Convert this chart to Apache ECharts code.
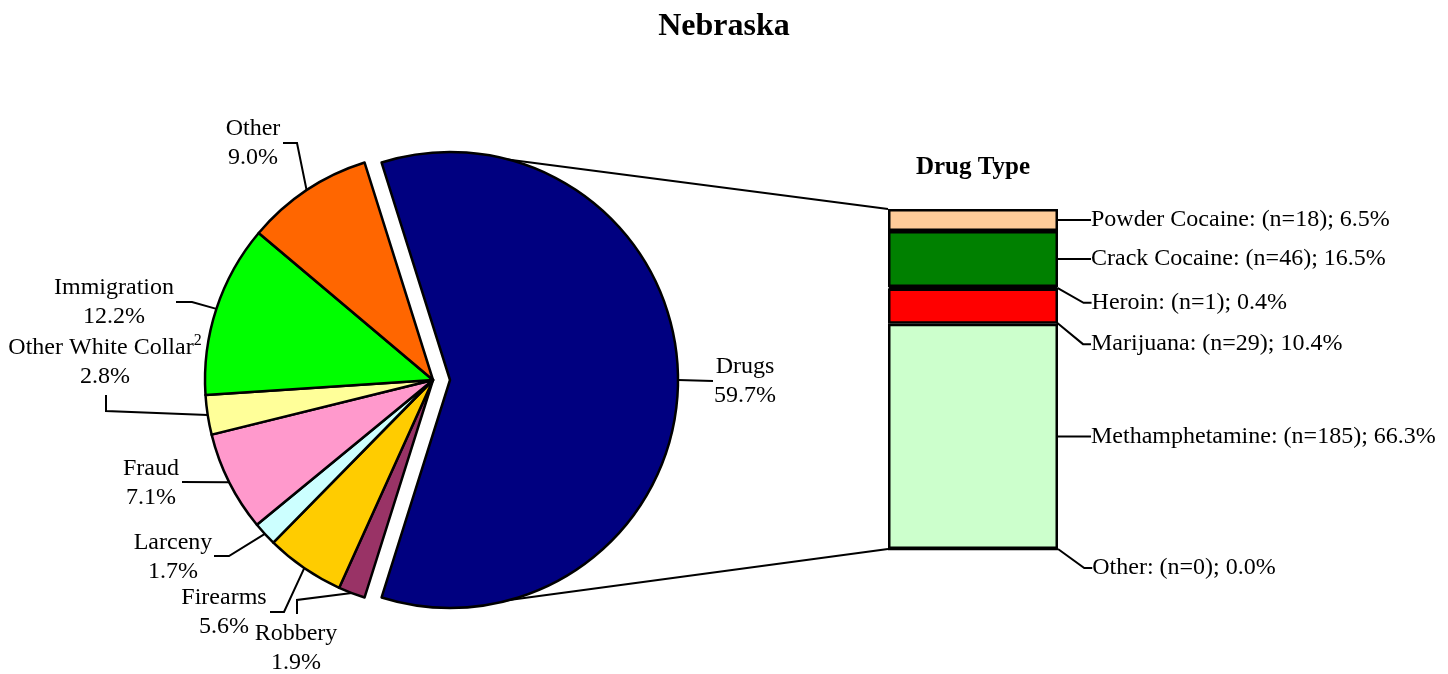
<!DOCTYPE html>
<html>
<head>
<meta charset="utf-8">
<script src="https://cdn.jsdelivr.net/npm/echarts@6/dist/echarts.min.js"></script>
<style>
html,body{margin:0;padding:0;background:#ffffff;}
#chart{width:1448px;height:674px;}
</style>
</head>
<body>
<div id="chart"></div>
<script>
// ---------- DATA ----------
const chartTitle = 'Nebraska';
const barTitle = 'Drug Type';
const offenseNames = ['Drugs', 'Robbery', 'Firearms', 'Larceny', 'Fraud', 'Other White Collar', 'Immigration', 'Other'];
const offensePercents = [59.7, 1.9, 5.6, 1.7, 7.1, 2.8, 12.2, 9.0];
const offenseFootnotes = { 'Other White Collar': '2' };
const explodedOffense = 'Drugs';

// drug breakdown, listed top to bottom as in the bar
const drugNames = ['Powder Cocaine', 'Crack Cocaine', 'Heroin', 'Marijuana', 'Methamphetamine', 'Other'];
const drugCounts = [18, 46, 1, 29, 185, 0];
const drugPercents = [6.5, 16.5, 0.4, 10.4, 66.3, 0.0];

// ---------- STYLE / LAYOUT ----------
const FONT = '"Liberation Serif", "Times New Roman", serif';
const offenseColors = ['#000080', '#993366', '#FFCC00', '#CCFFFF', '#FF99CC', '#FFFF99', '#00FF00', '#FF6600'];
const drugColors = ['#FFCC99', '#008000', '#333399', '#FF0000', '#CCFFCC', '#3366FF'];
const PIE = { cx: 433, cy: 380, r: 228, explode: 17 };
const BAR = { left: 888, top: 209, width: 170, height: 340 };
// label block centers and leader-line bends, relative to pie center
const pieLabelPos = {
  'Drugs':              { c: [312, 1],     pts: [[280, 1]] },
  'Robbery':            { c: [-137, 268],  pts: [[-136, 220], [-136, 234]] },
  'Firearms':           { c: [-209, 232],  pts: [[-149, 232], [-163, 232]] },
  'Larceny':            { c: [-260, 177],  pts: [[-204, 176], [-219, 176]] },
  'Fraud':              { c: [-282, 103],  pts: [[-251, 102]] },
  'Other White Collar': { c: [-328, -18],  pts: [[-327, 31], [-327, 15]] },
  'Immigration':        { c: [-319, -78],  pts: [[-241, -78], [-257, -78]] },
  'Other':              { c: [-180, -237], pts: [[-136, -237], [-150, -237]] }
};
// vertical shift of bar labels from the middle of their segment
const drugLabelShift = [0, 0, 15, 38, 0, 19];

// ---------- GEOMETRY HELPERS ----------
const total = offensePercents.reduce((a, b) => a + b, 0);
const explodedIndex = offenseNames.indexOf(explodedOffense);
const startAngle = offensePercents[0] / total * 360 / 2; // first slice centred on the right
const midAngles = [];
(function () {
  let cum = 0;
  offensePercents.forEach(p => {
    midAngles.push(startAngle - (cum + p / 2) / total * 360);
    cum += p;
  });
})();
const expA = midAngles[explodedIndex] * Math.PI / 180;
const explodedCenter = [PIE.cx + PIE.explode * Math.cos(expA), PIE.cy - PIE.explode * Math.sin(expA)];

function anchorPoint(i) {
  const a = midAngles[i] * Math.PI / 180;
  const c = i === explodedIndex ? explodedCenter : [PIE.cx, PIE.cy];
  return [c[0] + PIE.r * Math.cos(a), c[1] - PIE.r * Math.sin(a)];
}

const chart = echarts.init(document.getElementById('chart'), null, { renderer: 'canvas' });

const hiddenItem = {
  itemStyle: { color: 'rgba(0,0,0,0)', borderWidth: 0 },
  label: { show: false },
  labelLine: { show: false }
};
// whole pie minus the exploded slice / the exploded slice alone
function pieItems(showExploded) {
  return offenseNames.map((n, i) => {
    const visible = (i === explodedIndex) === showExploded;
    return Object.assign({ name: n, value: offensePercents[i] },
      visible ? { itemStyle: { color: offenseColors[i] } } : hiddenItem);
  });
}

const pieLabel = {
  show: true,
  position: 'outside',
  color: '#000',
  formatter: function (p) {
    const sup = offenseFootnotes[p.name] ? '{s|' + offenseFootnotes[p.name] + '}' : '';
    return '{n|' + p.name + '}' + sup + '\n{n|' + p.value.toFixed(1) + '%}';
  },
  rich: {
    n: { fontFamily: FONT, fontSize: 24, lineHeight: 29, color: '#000' },
    s: { fontFamily: FONT, fontSize: 16, lineHeight: 29, verticalAlign: 'top', color: '#000' }
  }
};
function pieLabelLayout(p) {
  const i = p.dataIndex;
  const pos = pieLabelPos[offenseNames[i]];
  const pts = [anchorPoint(i)].concat(pos.pts.map(q => [PIE.cx + q[0], PIE.cy + q[1]]));
  return {
    x: PIE.cx + pos.c[0],
    y: PIE.cy + pos.c[1],
    align: 'center',
    verticalAlign: 'middle',
    labelLinePoints: pts
  };
}
function pieSeries(center, showExploded) {
  return {
    type: 'pie',
    center: center,
    radius: PIE.r,
    startAngle: startAngle,
    clockwise: true,
    avoidLabelOverlap: false,
    itemStyle: { borderColor: '#000', borderWidth: 2.5 },
    label: pieLabel,
    labelLine: { show: true, lineStyle: { color: '#000', width: 2 } },
    labelLayout: pieLabelLayout,
    emphasis: { disabled: true },
    data: pieItems(showExploded)
  };
}

const drugTotal = drugPercents.reduce((a, b) => a + b, 0);
const barSeries = drugNames.map((n, i) => ({
  type: 'bar',
  name: n,
  stack: 'drugs',
  barWidth: '100%',
  data: [drugPercents[i]],
  itemStyle: { color: drugColors[i], borderColor: '#000', borderWidth: 2.5 },
  label: {
    show: true,
    position: 'right',
    formatter: () => n + ': (n=' + drugCounts[i] + '); ' + drugPercents[i].toFixed(1) + '%',
    fontFamily: FONT,
    fontSize: 24,
    color: '#000'
  },
  labelLine: { show: true, length2: 8, lineStyle: { color: '#000', width: 2 } },
  labelLayout: function (p) {
    return {
      x: p.rect.x + p.rect.width + 33,
      y: p.rect.y + p.rect.height / 2 + drugLabelShift[i],
      align: 'left',
      verticalAlign: 'middle'
    };
  },
  emphasis: { disabled: true }
})).reverse(); // first series sits at the bottom of the stack

const option = {
  backgroundColor: '#ffffff',
  animation: false,
  title: [
    {
      text: chartTitle, left: 'center', top: 11, padding: 0,
      textStyle: { fontFamily: FONT, fontWeight: 'bold', fontSize: 32, lineHeight: 32, color: '#000' }
    },
    {
      text: barTitle, left: BAR.left + BAR.width / 2, top: 155, padding: 0, textAlign: 'center',
      textStyle: { fontFamily: FONT, fontWeight: 'bold', fontSize: 25, lineHeight: 26, color: '#000' }
    }
  ],
  grid: { left: BAR.left, top: BAR.top, width: BAR.width, height: BAR.height, containLabel: false },
  xAxis: { type: 'category', data: [''], show: false },
  yAxis: { type: 'value', min: 0, max: drugTotal, show: false },
  graphic: [
    {
      type: 'line', z: 0, silent: true,
      shape: { x1: explodedCenter[0], y1: explodedCenter[1] - PIE.r, x2: BAR.left, y2: BAR.top },
      style: { stroke: '#000', lineWidth: 2 }
    },
    {
      type: 'line', z: 0, silent: true,
      shape: { x1: explodedCenter[0], y1: explodedCenter[1] + PIE.r, x2: BAR.left, y2: BAR.top + BAR.height },
      style: { stroke: '#000', lineWidth: 2 }
    }
  ],
  series: [
    pieSeries([PIE.cx, PIE.cy], false),
    pieSeries(explodedCenter, true)
  ].concat(barSeries)
};
chart.setOption(option);
</script>
</body>
</html>
